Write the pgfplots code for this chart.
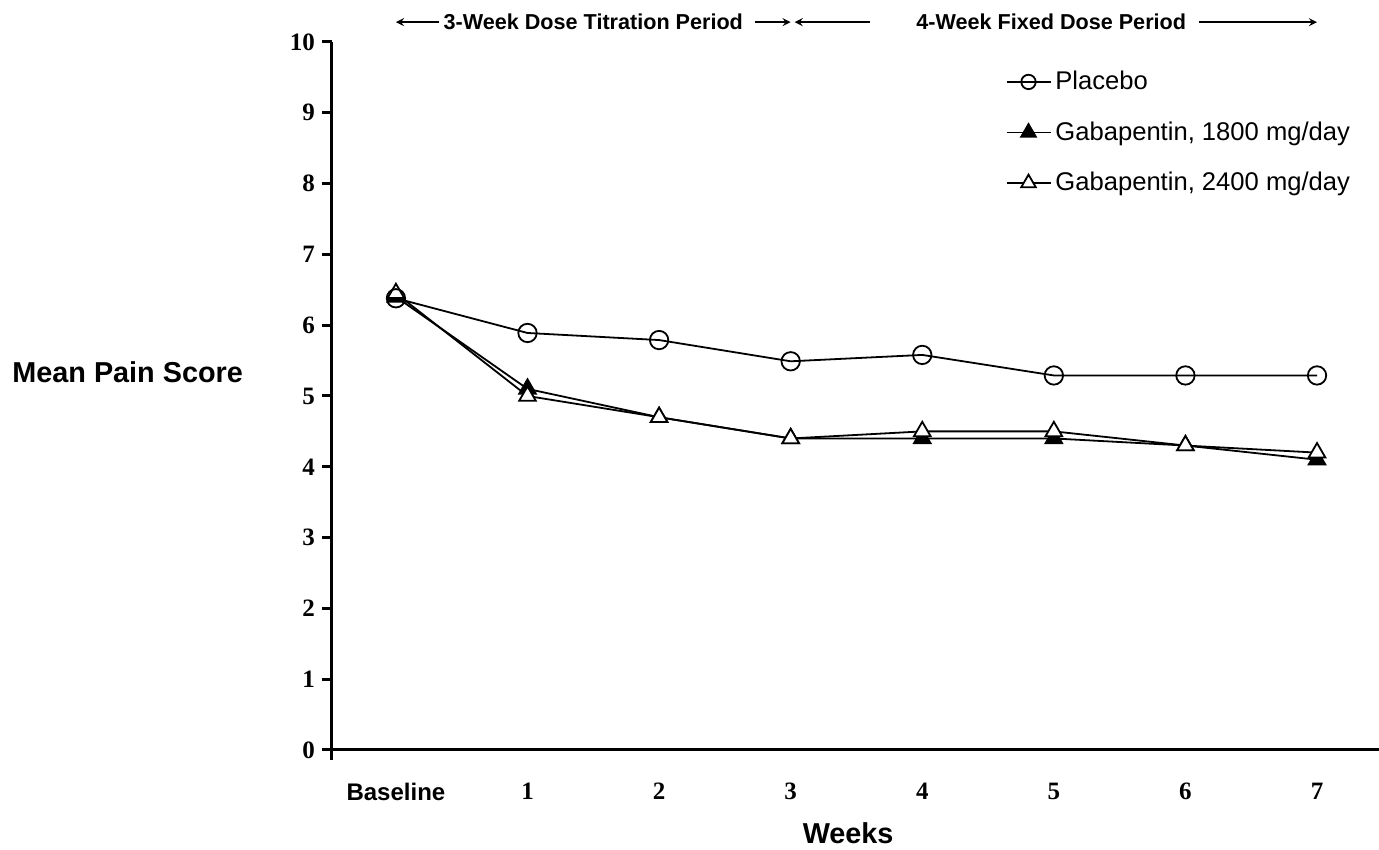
\documentclass[border=0pt]{standalone}
\usepackage{fontspec}
\setmainfont{Liberation Serif}
\setsansfont{Liberation Sans}
\usepackage{pgfplots}
\pgfplotsset{compat=1.18}

\begin{document}
\begin{tikzpicture}
\begin{axis}[
  scale only axis,
  width=523.5pt, height=354pt,
  xmin=-0.486, xmax=7.471,
  ymin=0, ymax=10,
  clip=false,
  axis lines=left,
  axis line style={line width=1.5pt, -},
  xtick=\empty,
  extra x ticks={0,1,2,3,4,5,6,7},
  extra x tick labels={{\sffamily\bfseries\fontsize{12}{14}\selectfont Baseline},1,2,3,4,5,6,7},
  extra x tick style={major tick length=0pt, xticklabel style={yshift=-13pt}},
  ytick={0,1,...,10},
  tick align=outside,
  major tick length=5pt,
  every major tick/.append style={black, line width=1.5pt},
  /pgf/number format/assume math mode=true,
  ticklabel style={font=\bfseries\fontsize{12.5}{14}\selectfont},
  xlabel={Weeks},
  every axis x label/.style={at={(axis description cs:0.493,0)}, anchor=center, yshift=-41.5pt,
    font=\sffamily\bfseries\fontsize{14.4}{17}\selectfont},
  ylabel={Mean Pain Score},
  every axis y label/.style={at={(axis description cs:0,0.534)}, anchor=east, xshift=-41pt,
    font=\sffamily\bfseries\fontsize{14.4}{17}\selectfont},
  legend style={at={(rel axis cs:0.643,0.965)}, anchor=north west, draw=none, fill=none,
    inner sep=0pt, row sep=10.5pt, font=\sffamily\fontsize{12.8}{15}\selectfont},
  legend cell align=left,
  legend image code/.code={\draw[mark repeat=2, mark phase=2] plot coordinates {(0pt,0pt) (11pt,0pt) (22pt,0pt)};},
]
\addlegendimage{black, line width=0.9pt, mark=o, mark size=3.6pt, mark options={fill=white}}
\addlegendentry{Placebo}
\addlegendimage{black, line width=0.9pt, mark=triangle*, mark size=4.2pt, mark options={fill=black}}
\addlegendentry{Gabapentin, 1800 mg/day}
\addlegendimage{black, line width=0.9pt, mark=triangle*, mark size=4.2pt, mark options={fill=white}}
\addlegendentry{Gabapentin, 2400 mg/day}

% Gabapentin 1800 mg/day
\addplot[black, line width=0.9pt, mark=triangle*, mark size=4.8pt, mark options={fill=black}, forget plot]
  coordinates {(0,6.4) (1,5.1) (2,4.7) (3,4.4) (4,4.4) (5,4.4) (6,4.3) (7,4.1)};
% Gabapentin 2400 mg/day
\addplot[black, line width=0.9pt, mark=triangle*, mark size=4.8pt, mark options={fill=white}, forget plot]
  coordinates {(0,6.45) (1,5.0) (2,4.7) (3,4.4) (4,4.5) (5,4.5) (6,4.3) (7,4.2)};
% Placebo
\addplot[black, line width=0.9pt, mark=o, mark size=4.6pt, mark options={fill=white}, forget plot]
  coordinates {(0,6.38) (1,5.89) (2,5.79) (3,5.49) (4,5.58) (5,5.29) (6,5.29) (7,5.29)};

% y axis runs a little below the x axis
\draw[line width=1.5pt] (rel axis cs:0,0) -- ([yshift=-5pt]rel axis cs:0,0);
% outward y tick marks
\pgfplotsinvokeforeach{0,1,...,10}{
  \draw[line width=1.5pt] (axis cs:-0.486,#1) -- ([xshift=-5pt]axis cs:-0.486,#1);
}

% period annotations above the plot
\begin{scope}[font=\sffamily\bfseries\fontsize{10.8}{12}\selectfont, line width=0.8pt, >=stealth]
  \draw[->] (axis cs:0.33,10.28) -- (axis cs:0,10.28);
  \node at (axis cs:1.5,10.28) {3-Week Dose Titration Period};
  \draw[->] (axis cs:2.73,10.28) -- (axis cs:3.0,10.28);
  \draw[->] (axis cs:3.6,10.28) -- (axis cs:3.03,10.28);
  \node at (axis cs:4.98,10.28) {4-Week Fixed Dose Period};
  \draw[->] (axis cs:6.1,10.28) -- (axis cs:7.0,10.28);
\end{scope}

\coordinate (bl) at (axis cs:-3.009,-1.412);
\coordinate (tr) at (axis cs:7.471,10.593);
\end{axis}
\pgfresetboundingbox
\useasboundingbox (bl) rectangle (tr);
\end{tikzpicture}
\end{document}
